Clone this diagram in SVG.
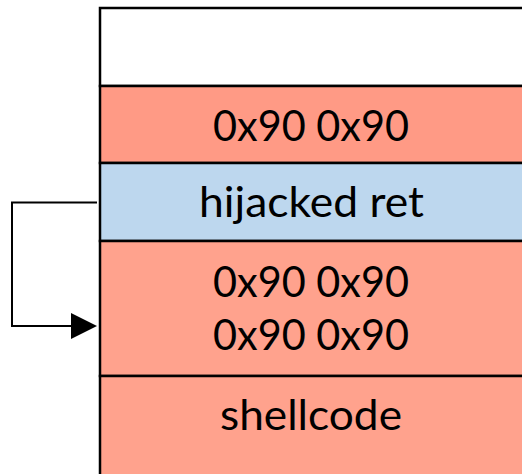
<svg xmlns="http://www.w3.org/2000/svg" width="522" height="474" viewBox="0 0 522 474">
<style>
.cell{stroke:#000;stroke-width:2.5}
.t{font-family:Lato,"Open Sans",sans-serif;font-size:43px;fill:#000;text-anchor:middle}
.conn{fill:none;stroke:#000;stroke-width:2}
</style>
<g id="cell-empty"><rect class="cell" x="100" y="8" width="424" height="78" fill="#FFFFFF"/></g>
<g id="cell-nop1"><rect class="cell" x="100" y="86" width="424" height="77" fill="#FF9A85"/>
<text class="t" x="311" y="141" textLength="196" lengthAdjust="spacingAndGlyphs">0x90 0x90</text></g>
<g id="cell-ret"><rect class="cell" x="100" y="163" width="424" height="78" fill="#BDD7EE"/>
<text class="t" x="311.5" y="217" textLength="225" lengthAdjust="spacingAndGlyphs">hijacked ret</text></g>
<g id="cell-nop2"><rect class="cell" x="100" y="241" width="424" height="135" fill="#FFA28D"/>
<text class="t" x="311" y="297" textLength="196" lengthAdjust="spacingAndGlyphs">0x90 0x90</text>
<text class="t" x="311" y="350" textLength="196" lengthAdjust="spacingAndGlyphs">0x90 0x90</text></g>
<g id="cell-shellcode"><rect class="cell" x="100" y="376" width="424" height="110" fill="#FFA28D"/>
<text class="t" x="311" y="430" textLength="182" lengthAdjust="spacingAndGlyphs">shellcode</text></g>
<g id="connectors">
<path d="M97,202.5 H12 V326 H71" class="conn"/>
<path d="M71,313 L97,326 L71,339 Z" fill="#000"/>
</g>
</svg>
